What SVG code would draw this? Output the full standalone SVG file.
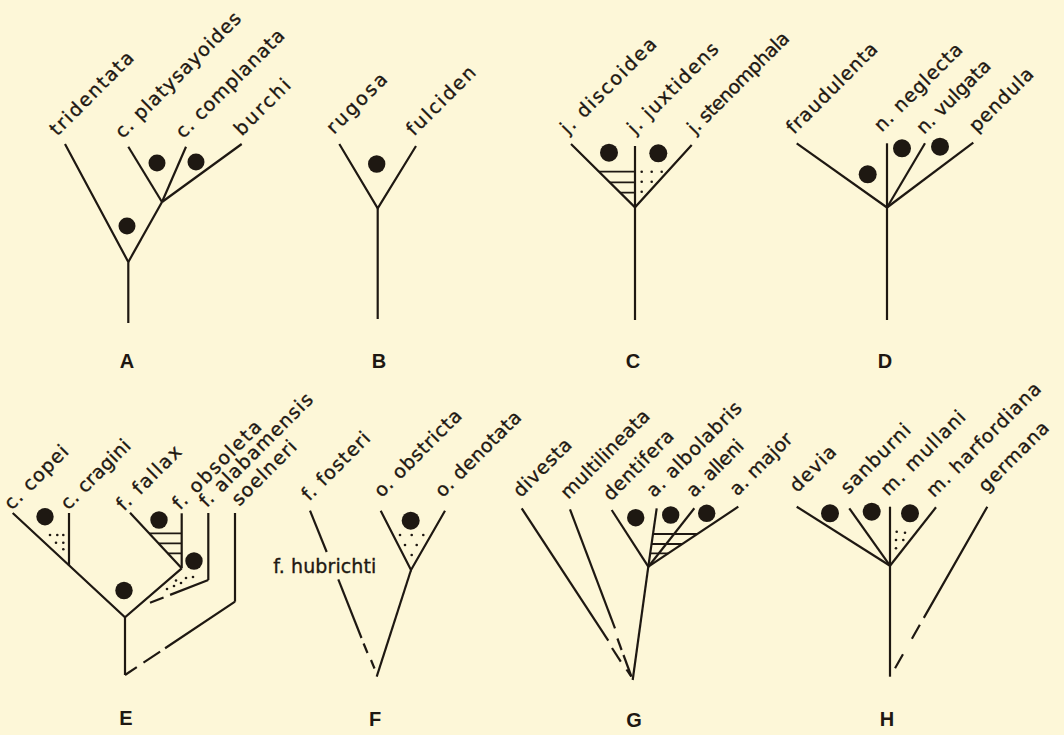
<svg xmlns="http://www.w3.org/2000/svg" width="1064" height="735" viewBox="0 0 1064 735">
<style>
.ln{stroke:#1e1812;stroke-width:2.2;fill:none}
.hl{stroke:#1e1812;stroke-width:1.8;fill:none}
.bd{fill:#1e1812}
.sd{fill:#1e1812}
.lb{font-family:"DejaVu Sans","Liberation Sans",sans-serif;font-size:19px;fill:#1e1812;stroke:#1e1812;stroke-width:0.35}
.pl{font-family:"Liberation Sans",Arial,sans-serif;font-weight:bold;font-size:20px;fill:#1e1812;text-anchor:middle}
</style>
<rect width="1064" height="735" fill="#fdf7d8"/>

<!-- Panel A -->
<g id="panel-A">
  <g id="A-connectors">
    <path class="ln" d="M65,144 L128.3,262 L128.3,323"/>
    <path class="ln" d="M128.3,262 L162,202"/>
    <path class="ln" d="M128.3,146.7 L162,202"/>
    <path class="ln" d="M186,146.7 L162,202"/>
    <path class="ln" d="M241.7,144 L162,202"/>
  </g>
  <circle class="bd" cx="157" cy="163" r="8.5"/>
  <circle class="bd" cx="196" cy="162" r="8.5"/>
  <circle class="bd" cx="127" cy="226" r="8.5"/>
  <g id="A-tridentata"><text class="lb" x="57.3" y="136.7" transform="rotate(-45 57.3 136.7)" textLength="110" lengthAdjust="spacing">tridentata</text></g>
  <g id="A-platysayoides"><text class="lb" x="122.7" y="139.3" transform="rotate(-45 122.7 139.3)" textLength="169" lengthAdjust="spacing">c. platysayoides</text></g>
  <g id="A-complanata"><text class="lb" x="183.3" y="139.3" transform="rotate(-45 183.3 139.3)" textLength="145" lengthAdjust="spacing">c. complanata</text></g>
  <g id="A-burchi"><text class="lb" x="241.7" y="136.7" transform="rotate(-45 241.7 136.7)" textLength="71" lengthAdjust="spacing">burchi</text></g>
  <text class="pl" x="127" y="367.5">A</text>
</g>

<!-- Panel B -->
<g id="panel-B">
  <g id="B-connectors">
    <path class="ln" d="M339.3,144 L377.7,208.3 L416,146"/>
    <path class="ln" d="M377.7,208.3 V319"/>
  </g>
  <circle class="bd" cx="376.7" cy="164" r="8.7"/>
  <g id="B-rugosa"><text class="lb" x="334" y="135" transform="rotate(-45 334 135)" textLength="77" lengthAdjust="spacing">rugosa</text></g>
  <g id="B-fulciden"><text class="lb" x="414" y="136.7" transform="rotate(-45 414 136.7)" textLength="89" lengthAdjust="spacing">fulciden</text></g>
  <text class="pl" x="379" y="367.5">B</text>
</g>

<!-- Panel C -->
<g id="panel-C">
  <g id="C-connectors">
    <path class="ln" d="M571,144 L635,207.3 L691.7,145"/>
    <path class="ln" d="M635,146 V320"/>
    <path class="hl" d="M599,171.7 H635 M609.7,182.3 H635 M620.2,192.7 H635"/>
  </g>
  <circle class="bd" cx="609" cy="152.7" r="9"/>
  <circle class="bd" cx="658.3" cy="153.3" r="9"/>
  <g class="sd">
    <circle cx="641.7" cy="171.7" r="1.3"/><circle cx="651.7" cy="171.7" r="1.3"/><circle cx="661.7" cy="171.7" r="1.3"/>
    <circle cx="641.7" cy="181.7" r="1.3"/><circle cx="651.7" cy="181.7" r="1.3"/>
    <circle cx="641.7" cy="191.7" r="1.3"/>
  </g>
  <g id="C-discoidea"><text class="lb" x="568" y="135" transform="rotate(-45 568 135)" textLength="127" lengthAdjust="spacing">j. discoidea</text></g>
  <g id="C-juxtidens"><text class="lb" x="635" y="135" transform="rotate(-45 635 135)" textLength="120" lengthAdjust="spacing">j. juxtidens</text></g>
  <g id="C-stenomphala"><text class="lb" x="695" y="135" transform="rotate(-45 695 135)" textLength="135" lengthAdjust="spacing">j. stenomphala</text></g>
  <text class="pl" x="633" y="367.5">C</text>
</g>

<!-- Panel D -->
<g id="panel-D">
  <g id="D-connectors">
    <path class="ln" d="M796.7,143.3 L887,207.5"/>
    <path class="ln" d="M887,143.3 V320"/>
    <path class="ln" d="M925,143.3 L887,207.5"/>
    <path class="ln" d="M973.3,142.7 L887,207.5"/>
  </g>
  <circle class="bd" cx="867.7" cy="174.3" r="9"/>
  <circle class="bd" cx="902" cy="148.3" r="9"/>
  <circle class="bd" cx="940" cy="146.7" r="9"/>
  <g id="D-fraudulenta"><text class="lb" x="794" y="135" transform="rotate(-45 794 135)" textLength="120" lengthAdjust="spacing">fraudulenta</text></g>
  <g id="D-neglecta"><text class="lb" x="881.7" y="132.7" transform="rotate(-45 881.7 132.7)" textLength="116" lengthAdjust="spacing">n. neglecta</text></g>
  <g id="D-vulgata"><text class="lb" x="924" y="135" transform="rotate(-45 924 135)" textLength="96" lengthAdjust="spacing">n. vulgata</text></g>
  <g id="D-pendula"><text class="lb" x="976.7" y="133.3" transform="rotate(-45 976.7 133.3)" textLength="82" lengthAdjust="spacing">pendula</text></g>
  <text class="pl" x="885" y="367.5">D</text>
</g>

<!-- Panel E -->
<g id="panel-E">
  <g id="E-connectors">
    <path class="ln" d="M12.7,513 L125,617.3 L181.7,568.3"/>
    <path class="ln" d="M69,513 V565.5"/>
    <path class="ln" d="M130,512.7 L181.7,568.3"/>
    <path class="ln" d="M181.7,513.3 V568.3"/>
    <path class="hl" d="M149.2,533.3 H181.7 M158.5,543.3 H181.7 M167.8,553.3 H181.7"/>
    <path class="ln" d="M208.3,513 V580"/>
    <path class="ln" d="M208.3,580 L150,602.7" stroke-dasharray="41 7 15"/>
    <path class="ln" d="M235,513 V601.7"/>
    <path class="ln" d="M235,601.7 L125,675" stroke-dasharray="84 6 20 8 20"/>
    <path class="ln" d="M125,617.3 V675"/>
  </g>
  <circle class="bd" cx="45" cy="516.7" r="8.7"/>
  <circle class="bd" cx="159" cy="520" r="8.7"/>
  <circle class="bd" cx="194" cy="561" r="8.7"/>
  <circle class="bd" cx="124" cy="590.5" r="8.7"/>
  <g class="sd">
    <circle cx="50" cy="535" r="1.3"/><circle cx="57.3" cy="535" r="1.3"/><circle cx="63.3" cy="535" r="1.3"/>
    <circle cx="56" cy="542.7" r="1.3"/><circle cx="63.3" cy="542.7" r="1.3"/>
    <circle cx="63.3" cy="549.3" r="1.3"/>
    <circle cx="167" cy="589" r="1.3"/><circle cx="174" cy="586" r="1.3"/><circle cx="181" cy="583" r="1.3"/>
    <circle cx="186" cy="578" r="1.3"/><circle cx="193" cy="577" r="1.3"/><circle cx="176" cy="580.5" r="1.3"/>
  </g>
  <g id="E-copei"><text class="lb" x="11.7" y="510.7" transform="rotate(-45 11.7 510.7)" textLength="82" lengthAdjust="spacing">c. copei</text></g>
  <g id="E-cragini"><text class="lb" x="68.3" y="510.7" transform="rotate(-45 68.3 510.7)" textLength="90" lengthAdjust="spacing">c. cragini</text></g>
  <g id="E-fallax"><text class="lb" x="124" y="511.7" transform="rotate(-45 124 511.7)" textLength="83" lengthAdjust="spacing">f. fallax</text></g>
  <g id="E-obsoleta"><text class="lb" x="180" y="510.7" transform="rotate(-45 180 510.7)" textLength="117" lengthAdjust="spacing">f. obsoleta</text></g>
  <g id="E-alabamensis"><text class="lb" x="206.7" y="508.3" transform="rotate(-45 206.7 508.3)" textLength="152" lengthAdjust="spacing">f. alabamensis</text></g>
  <g id="E-soelneri"><text class="lb" x="239.3" y="506.7" transform="rotate(-45 239.3 506.7)" textLength="83" lengthAdjust="spacing">soelneri</text></g>
  <text class="pl" x="126" y="725">E</text>
</g>

<!-- Panel F -->
<g id="panel-F">
  <g id="F-connectors">
    <path class="ln" d="M310,510.7 L326.7,552"/>
    <path class="ln" d="M338.3,579.3 L361.5,638"/>
    <path class="ln" d="M363.6,643.5 L367.5,653"/>
    <path class="ln" d="M371,660 L374.5,668.5"/>
    <path class="ln" d="M380.7,510.7 L411,570 L445,510.7"/>
    <path class="ln" d="M411,570 L376.7,676.7"/>
  </g>
  <circle class="bd" cx="410.7" cy="520.7" r="9"/>
  <g class="sd">
    <circle cx="400" cy="535" r="1.3"/><circle cx="411.7" cy="535" r="1.3"/><circle cx="423.3" cy="535" r="1.3"/>
    <circle cx="405" cy="545" r="1.3"/><circle cx="416.7" cy="545" r="1.3"/>
    <circle cx="411.7" cy="555" r="1.3"/>
  </g>
  <g id="F-fosteri"><text class="lb" x="309.3" y="501.7" transform="rotate(-45 309.3 501.7)" textLength="88" lengthAdjust="spacing">f. fosteri</text></g>
  <g id="F-hubrichti"><text class="lb" x="273.3" y="572.5" textLength="103" lengthAdjust="spacing">f. hubrichti</text></g>
  <g id="F-obstricta"><text class="lb" x="381.7" y="498.3" transform="rotate(-45 381.7 498.3)" textLength="115" lengthAdjust="spacing">o. obstricta</text></g>
  <g id="F-denotata"><text class="lb" x="442.7" y="498.3" transform="rotate(-45 442.7 498.3)" textLength="113" lengthAdjust="spacing">o. denotata</text></g>
  <text class="pl" x="375" y="726">F</text>
</g>

<!-- Panel G -->
<g id="panel-G">
  <g id="G-connectors">
    <path class="ln" d="M521.7,508.3 L608.3,640.7"/>
    <path class="ln" d="M612,648 L620.8,661.7"/>
    <path class="ln" d="M626.5,669.5 L631.2,676.5"/>
    <path class="ln" d="M570,509.3 L615,628.3"/>
    <path class="ln" d="M617.4,638.5 L621.6,650"/>
    <path class="ln" d="M623.5,655 L631.4,676.5"/>
    <path class="ln" d="M632.7,680 L648.3,566.7"/>
    <path class="ln" d="M611.7,510 L648.3,566.7"/>
    <path class="ln" d="M656.7,508.3 L648.3,566.7"/>
    <path class="ln" d="M694.3,508.3 L648.3,566.7"/>
    <path class="ln" d="M738.3,506.7 L648.3,566.7"/>
    <path class="hl" d="M653,534 H697.3 M651.6,544 H682.3 M650.2,553.3 H668.3"/>
  </g>
  <circle class="bd" cx="635.7" cy="517.7" r="8.7"/>
  <circle class="bd" cx="670.7" cy="515" r="8.7"/>
  <circle class="bd" cx="706.7" cy="513.3" r="8.7"/>
  <g id="G-divesta"><text class="lb" x="520.7" y="498.3" transform="rotate(-45 520.7 498.3)" textLength="74" lengthAdjust="spacing">divesta</text></g>
  <g id="G-multilineata"><text class="lb" x="568.3" y="500" transform="rotate(-45 568.3 500)" textLength="117" lengthAdjust="spacing">multilineata</text></g>
  <g id="G-dentifera"><text class="lb" x="610.7" y="501.7" transform="rotate(-45 610.7 501.7)" textLength="91" lengthAdjust="spacing">dentifera</text></g>
  <g id="G-albolabris"><text class="lb" x="654" y="498.3" transform="rotate(-45 654 498.3)" textLength="126" lengthAdjust="spacing">a. albolabris</text></g>
  <g id="G-alleni"><text class="lb" x="694" y="498.3" transform="rotate(-45 694 498.3)" textLength="72" lengthAdjust="spacing">a. alleni</text></g>
  <g id="G-major"><text class="lb" x="737.3" y="496.7" transform="rotate(-45 737.3 496.7)" textLength="80" lengthAdjust="spacing">a. major</text></g>
  <text class="pl" x="634" y="727">G</text>
</g>

<!-- Panel H -->
<g id="panel-H">
  <g id="H-connectors">
    <path class="ln" d="M796.7,506.7 L890,565.7"/>
    <path class="ln" d="M849.3,508.3 L890,565.7"/>
    <path class="ln" d="M890,506.7 V676.7"/>
    <path class="ln" d="M936,507.3 L890,565.7"/>
    <path class="ln" d="M987.3,506.7 L895,668.3" stroke-dasharray="128 8 16 18 16"/>
  </g>
  <circle class="bd" cx="830" cy="513.3" r="9"/>
  <circle class="bd" cx="871.7" cy="511.7" r="9"/>
  <circle class="bd" cx="910" cy="513.3" r="9"/>
  <g class="sd">
    <circle cx="896.7" cy="531.7" r="1.3"/><circle cx="905" cy="532.7" r="1.3"/>
    <circle cx="896" cy="540" r="1.3"/><circle cx="903.3" cy="540" r="1.3"/>
    <circle cx="896" cy="548.3" r="1.3"/>
  </g>
  <g id="H-devia"><text class="lb" x="797.3" y="493.3" transform="rotate(-45 797.3 493.3)" textLength="57" lengthAdjust="spacing">devia</text></g>
  <g id="H-sanburni"><text class="lb" x="848.3" y="495" transform="rotate(-45 848.3 495)" textLength="90" lengthAdjust="spacing">sanburni</text></g>
  <g id="H-mullani"><text class="lb" x="888.3" y="496.7" transform="rotate(-45 888.3 496.7)" textLength="111" lengthAdjust="spacing">m. mullani</text></g>
  <g id="H-harfordiana"><text class="lb" x="934" y="498.3" transform="rotate(-45 934 498.3)" textLength="153" lengthAdjust="spacing">m. harfordiana</text></g>
  <g id="H-germana"><text class="lb" x="986" y="493.3" transform="rotate(-45 986 493.3)" textLength="91" lengthAdjust="spacing">germana</text></g>
  <text class="pl" x="887" y="726">H</text>
</g>
</svg>
